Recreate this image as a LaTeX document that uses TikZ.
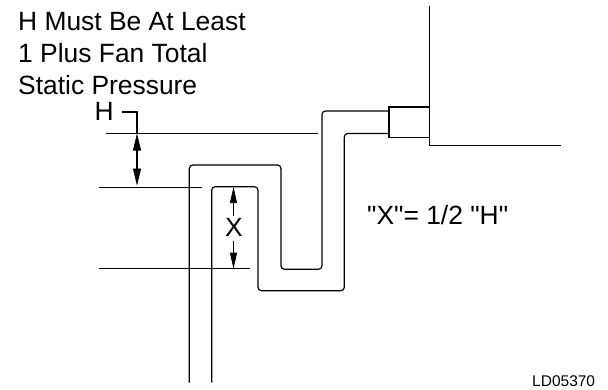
\documentclass[tikz,border=0pt]{standalone}
\usepackage{fontspec}
\newfontfamily\plainsans{Liberation Sans}
\usetikzlibrary{arrows.meta}
\tikzset{
  ln/.style={draw=black,line width=1.1pt},
  pipe/.style={draw=black,line width=1.2pt,rounded corners=3.5pt},
  lead/.style={draw=black,line width=2pt},
  head/.style={-{Stealth[length=16pt,width=7pt,inset=0pt,line width=0.6pt]},draw=black,line width=1.8pt},
  headb/.style={-{Stealth[length=17pt,width=8pt,inset=0pt,line width=0.6pt]},draw=black,line width=2.2pt},
  lab/.style={inner sep=0pt,anchor=base west,font=\plainsans\fontsize{26.4}{30}\selectfont}
}
\begin{document}
\begin{tikzpicture}[x=1pt,y=-1pt]
\useasboundingbox (0,0) rectangle (608,389);
% wall
\coordinate (w1) at (429.5,6);
\coordinate (w2) at (429.5,145.5);
\coordinate (w3) at (561,145.5);
\draw[ln] (w1) -- (w2) -- (w3);
% connector box
\coordinate (b1) at (389,107);
\coordinate (b2) at (429.5,107);
\coordinate (b3) at (429.5,137.5);
\coordinate (b4) at (389,137.5);
\draw[ln] (b2) -- (b1) -- (b4) -- (b3);
% pipe
\draw[pipe] (189.3,382.7) -- (189.3,165) -- (281,165) -- (281,269.3) -- (322,269.3) -- (322,111) -- (389,111);
\draw[pipe] (211.7,382.7) -- (211.7,186.7) -- (258,186.7) -- (258,290.7) -- (344.3,290.7) -- (344.3,133.5) -- (389,133.5);
% level lines
\coordinate (l1a) at (106,133.3);
\coordinate (l1b) at (318,133.3);
\coordinate (l2a) at (99,187.7);
\coordinate (l2b) at (202,187.7);
\coordinate (l3a) at (99,268.7);
\coordinate (l3b) at (250,268.7);
\draw[ln] (l1a) -- (l1b);
\draw[ln] (l2a) -- (l2b);
\draw[ln] (l3a) -- (l3b);
% H dimension
\coordinate (h0) at (122,112);
\coordinate (h1) at (137,112);
\coordinate (hm) at (137,158);
\coordinate (ht) at (137,133.5);
\coordinate (hb) at (137,185.5);
\draw[lead] (h0) -- (h1) -- (137,134);
\draw[headb] (hm) -- (ht);
\draw[headb] (hm) -- (hb);
% X dimension
\coordinate (xt) at (233.5,187);
\coordinate (xb) at (233.5,268.7);
\coordinate (xu) at (233.5,216);
\coordinate (xd) at (233.5,240.7);
\draw[head] (xu) -- (xt);
\draw[head] (xd) -- (xb);
% text
\node[lab] (t1) at (18,30) {H Must Be At Least};
\node[lab] (t2) at (18,62) {1 Plus Fan Total};
\node[lab] (t3) at (18,94) {Static Pressure};
\node[lab] (th) at (94.5,120.5) {H};
\node[lab] (tx) at (225,236.7) {X};
\node[lab] (tr) at (367,224.3) {"X"= 1/2 "H"};
\node[inner sep=0pt,anchor=base west,font=\plainsans\fontsize{15.5}{18}\selectfont] (ld) at (532,386.5) {LD05370};
\end{tikzpicture}
\end{document}
